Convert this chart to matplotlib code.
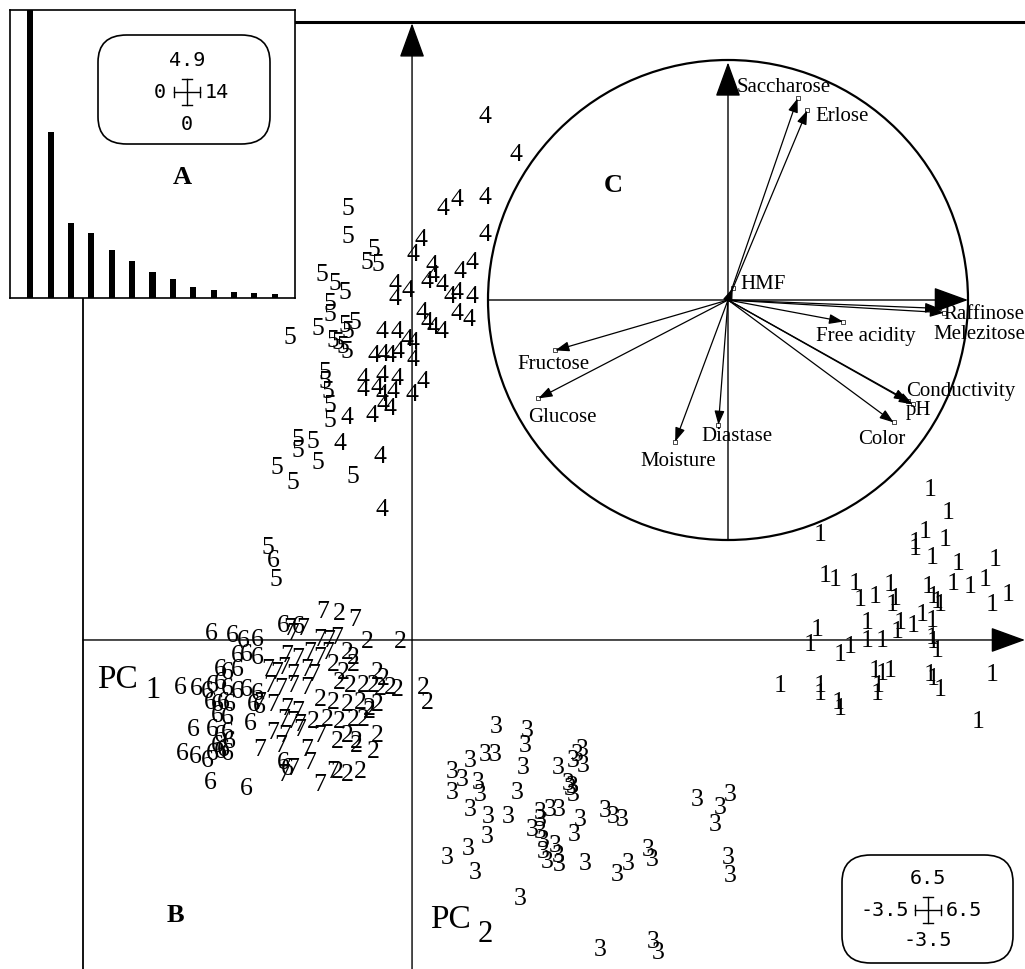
import matplotlib.pyplot as plt
from matplotlib.patches import FancyBboxPatch, Circle
from matplotlib.lines import Line2D

plt.rcParams['font.family'] = ['Liberation Serif', 'DejaVu Serif']

W, H = 1025, 969

# eigenvalues of the PCA (inset A)
eigenvalues = [4.9, 2.83, 1.28, 1.11, 0.82, 0.63, 0.44, 0.32, 0.19, 0.14, 0.10, 0.085, 0.07]

# correlation circle (inset C): loadings on PC1 / PC2
variables = ['Saccharose', 'Erlose', 'HMF', 'Raffinose', 'Melezitose', 'Free acidity',
             'Fructose', 'Glucose', 'Moisture', 'Diastase', 'Color', 'Conductivity', 'pH']
load_pc1 = [0.29, 0.33, 0.02, 0.88, 0.90, 0.48, -0.72, -0.79, -0.22, -0.04, 0.69, 0.75, 0.77]
load_pc2 = [0.84, 0.79, 0.05, -0.035, -0.053, -0.09, -0.21, -0.41, -0.59, -0.52, -0.51, -0.42, -0.435]

# scores (PC1, PC2) for each honey group
g1 = [(5.51, 1.62), (5.70, 1.38), (4.34, 1.14), (5.46, 1.17), (5.35, 1.06), (5.35, 0.99),
      (5.67, 1.09), (5.53, 0.90), (5.81, 0.83), (6.20, 0.88), (4.39, 0.71), (4.50, 0.67),
      (4.71, 0.62), (4.77, 0.45), (4.93, 0.48), (5.09, 0.61), (5.11, 0.40), (5.14, 0.46),
      (5.49, 0.59), (5.54, 0.48), (5.59, 0.43), (5.62, 0.40), (5.76, 0.62), (5.94, 0.59),
      (6.10, 0.66), (6.17, 0.40), (6.34, 0.51), (4.31, 0.13), (4.23, -0.03), (4.55, -0.13),
      (4.66, -0.05), (4.84, 0.21), (4.84, 0.02), (5.00, 0.02), (5.16, 0.11), (5.19, 0.21),
      (5.33, 0.18), (5.43, 0.29), (5.53, 0.23), (5.53, 0.05), (5.54, 0.00), (5.59, -0.09),
      (3.91, -0.46), (4.34, -0.46), (4.34, -0.55), (4.53, -0.64), (4.55, -0.71), (4.93, -0.30),
      (5.00, -0.34), (5.09, -0.30), (4.96, -0.46), (4.95, -0.55), (5.51, -0.35), (5.54, -0.39),
      (5.62, -0.51), (6.17, -0.35), (6.02, -0.85)]
g2 = [(-0.77, 0.30), (-0.48, 0.00), (-0.13, 0.00), (-0.69, -0.11), (-0.63, -0.16), (-0.84, -0.24),
      (-0.73, -0.32), (-0.63, -0.24), (-0.37, -0.32), (-0.31, -0.39), (-0.77, -0.43), (-0.66, -0.46),
      (-0.52, -0.46), (-0.41, -0.46), (-0.34, -0.50), (-0.23, -0.48), (-0.16, -0.51), (0.12, -0.48),
      (0.16, -0.64), (-0.98, -0.61), (-0.84, -0.64), (-0.69, -0.67), (-0.55, -0.64), (-0.45, -0.71),
      (-0.37, -0.67), (-1.05, -0.85), (-0.90, -0.82), (-0.77, -0.85), (-0.63, -0.82), (-0.52, -0.82),
      (-0.45, -0.74), (-0.80, -1.06), (-0.69, -0.99), (-0.59, -1.06), (-0.37, -0.99), (-0.41, -1.17),
      (-0.55, -1.38), (-0.69, -1.41), (-0.80, -1.38), (-0.59, -1.10)]
g3 = [(0.90, -0.90), (1.23, -0.94), (1.20, -1.10), (1.81, -1.14), (1.76, -1.20), (1.82, -1.31),
      (0.62, -1.26), (0.78, -1.20), (0.88, -1.20), (0.43, -1.38), (0.53, -1.46), (0.43, -1.60),
      (0.70, -1.49), (0.72, -1.62), (1.18, -1.33), (1.55, -1.33), (1.71, -1.26), (1.12, -1.60),
      (1.66, -1.51), (1.70, -1.54), (1.71, -1.62), (1.68, -1.56), (0.62, -1.78), (0.81, -1.86),
      (1.02, -1.86), (1.36, -1.81), (1.47, -1.78), (1.57, -1.78), (1.28, -1.99), (1.36, -1.89),
      (1.36, -2.02), (1.79, -1.89), (1.73, -2.05), (2.05, -1.79), (2.14, -1.86), (2.24, -1.89),
      (3.03, -1.68), (3.28, -1.76), (3.38, -1.62), (3.22, -1.94), (0.80, -2.07), (0.60, -2.20),
      (0.37, -2.29), (0.67, -2.45), (1.39, -2.11), (1.39, -2.23), (1.44, -2.34), (1.52, -2.16),
      (1.55, -2.27), (1.57, -2.37), (1.84, -2.36), (2.18, -2.47), (2.30, -2.36), (2.51, -2.21),
      (2.55, -2.31), (3.36, -2.29), (3.38, -2.48), (1.15, -2.73), (2.00, -3.27), (2.56, -3.19),
      (2.62, -3.30)]
g4 = [(0.78, 5.59), (1.10, 5.19), (0.78, 4.73), (0.48, 4.71), (0.33, 4.61), (0.78, 4.33),
      (0.09, 4.28), (0.01, 4.12), (0.64, 4.04), (0.51, 3.94), (0.21, 4.01), (0.22, 3.90),
      (0.16, 3.83), (0.32, 3.80), (0.40, 3.67), (0.48, 3.72), (0.64, 3.67), (-0.04, 3.74),
      (-0.18, 3.80), (-0.18, 3.65), (0.11, 3.51), (0.16, 3.40), (0.22, 3.35), (0.32, 3.30),
      (0.48, 3.49), (0.60, 3.43), (-0.32, 3.30), (-0.16, 3.30), (-0.05, 3.22), (0.01, 3.19),
      (-0.41, 3.05), (-0.31, 3.06), (-0.23, 3.05), (-0.15, 3.09), (0.01, 3.01), (-0.52, 2.80),
      (-0.32, 2.84), (-0.16, 2.80), (-0.52, 2.69), (-0.37, 2.71), (-0.32, 2.63), (-0.20, 2.66),
      (0.00, 2.63), (0.12, 2.77), (-0.31, 2.53), (-0.23, 2.48), (-0.69, 2.39), (-0.43, 2.41),
      (-0.77, 2.11), (-0.34, 1.97), (-0.32, 1.41)]
g5 = [(-0.68, 4.61), (-0.68, 4.31), (-0.41, 4.18), (-0.48, 4.04), (-0.36, 4.02), (-0.96, 3.91),
      (-0.82, 3.81), (-0.71, 3.72), (-0.87, 3.60), (-0.87, 3.48), (-1.30, 3.24), (-1.00, 3.33),
      (-0.71, 3.37), (-0.61, 3.40), (-0.68, 3.30), (-0.84, 3.21), (-0.79, 3.19), (-0.74, 3.14),
      (-0.69, 3.09), (-0.93, 2.87), (-0.93, 2.77), (-0.90, 2.66), (-0.87, 2.52), (-0.87, 2.36),
      (-1.21, 2.15), (-1.06, 2.13), (-1.21, 2.04), (-1.44, 1.86), (-1.00, 1.91), (-1.27, 1.70),
      (-0.63, 1.76), (-1.53, 1.01), (-1.45, 0.66)]
g6 = [(-1.48, 0.87), (-2.13, 0.09), (-1.91, 0.07), (-1.80, 0.02), (-1.65, 0.03), (-1.37, 0.18),
      (-1.21, 0.16), (-1.86, -0.14), (-1.76, -0.13), (-1.65, -0.16), (-2.04, -0.29), (-1.96, -0.32),
      (-1.86, -0.29), (-2.47, -0.48), (-2.29, -0.50), (-2.18, -0.53), (-2.12, -0.46), (-2.04, -0.43),
      (-1.97, -0.50), (-1.86, -0.53), (-1.76, -0.51), (-1.65, -0.55), (-2.15, -0.64), (-2.07, -0.67),
      (-2.01, -0.64), (-1.94, -0.67), (-2.07, -0.78), (-1.97, -0.80), (-1.72, -0.87), (-1.62, -0.69),
      (-1.69, -0.67), (-2.33, -0.93), (-2.12, -0.93), (-2.04, -0.99), (-1.97, -0.96), (-1.94, -1.06),
      (-2.07, -1.10), (-2.01, -1.14), (-2.44, -1.19), (-2.31, -1.22), (-2.18, -1.26), (-2.12, -1.19),
      (-2.04, -1.17), (-1.96, -1.19), (-2.15, -1.49), (-1.76, -1.56), (-1.37, -1.28), (-1.33, -1.35)]
g7 = [(-0.95, 0.32), (-0.61, 0.24), (-1.27, 0.09), (-1.16, 0.14), (-1.30, 0.14), (-0.98, 0.03),
      (-0.89, 0.02), (-0.80, 0.05), (-1.33, -0.14), (-1.22, -0.18), (-1.09, -0.11), (-0.98, -0.16),
      (-0.90, -0.11), (-1.54, -0.29), (-1.44, -0.32), (-1.37, -0.27), (-1.27, -0.35), (-1.12, -0.29),
      (-1.05, -0.35), (-1.51, -0.46), (-1.40, -0.50), (-1.27, -0.46), (-1.12, -0.48), (-1.62, -0.64),
      (-1.48, -0.67), (-1.33, -0.71), (-1.22, -0.74), (-1.37, -0.82), (-1.27, -0.85), (-1.19, -0.88),
      (-1.48, -0.96), (-1.35, -0.99), (-1.19, -0.93), (-1.62, -1.14), (-1.40, -1.10), (-1.12, -1.14),
      (-0.98, -0.99), (-1.37, -1.41), (-1.27, -1.35), (-1.09, -1.28), (-0.98, -1.52), (-0.84, -1.38)]
groups = {'1': g1, '2': g2, '3': g3, '4': g4, '5': g5, '6': g6, '7': g7}


def fx(px):
    return px / W


def fy(py):
    return 1 - py / H


fig = plt.figure(figsize=(W / 100, H / 100), dpi=100)

# ---- main score plot (B) ----
ax = fig.add_axes([fx(83), 0, fx(1025) - fx(83), fy(22)])
ax.set_xlim(-3.5, 6.52)
ax.set_ylim(-3.5, 6.574)
ax.set_xticks([])
ax.set_yticks([])
for s in ['right', 'bottom']:
    ax.spines[s].set_visible(False)
ax.spines['left'].set_linewidth(1.3)
ax.spines['top'].set_linewidth(2.2)

arrow_big = dict(arrowstyle='-|>,head_length=1.1,head_width=0.4', mutation_scale=20,
                 lw=1.0, color='black', shrinkA=0, shrinkB=0)
ax.annotate('', xy=(6.52, 0), xytext=(-3.5, 0), arrowprops=arrow_big, annotation_clip=False)
ax.annotate('', xy=(0, 6.56), xytext=(0, -3.5), arrowprops=arrow_big, annotation_clip=False)

for lab, pts in groups.items():
    for x, y in pts:
        ax.text(x, y, lab, ha='center', va='center_baseline', fontsize=18.5, clip_on=False)

fig.text(fx(97), fy(688), 'PC', fontsize=24, va='baseline', ha='left')
fig.text(fx(145), fy(698), '1', fontsize=22, va='baseline', ha='left')
fig.text(fx(430), fy(928), 'PC', fontsize=24, va='baseline', ha='left')
fig.text(fx(478), fy(942), '2', fontsize=22, va='baseline', ha='left')
fig.text(fx(175), fy(915), 'B', fontsize=19, fontweight='bold', ha='center', va='center')

# ---- eigenvalue inset (A) ----
axa = fig.add_axes([fx(10), fy(298), fx(295) - fx(10), fy(10) - fy(298)], zorder=5)
axa.set_facecolor('white')
axa.bar(range(1, len(eigenvalues) + 1), eigenvalues, width=0.3, color='black')
axa.set_xlim(0, 14)
axa.set_ylim(0, 4.9)
axa.set_xticks([])
axa.set_yticks([])
for s in axa.spines.values():
    s.set_linewidth(1.2)


def scale_box(x0, y0, x1, y1, labels, cx, cy, zorder=6):
    box = FancyBboxPatch((fx(x0), fy(y1)), fx(x1) - fx(x0), fy(y0) - fy(y1),
                         boxstyle='round,pad=0,rounding_size=0.028', transform=fig.transFigure,
                         fc='white', ec='black', lw=1.2, zorder=zorder)
    fig.add_artist(box)
    for (px, py, t, ha) in labels:
        fig.text(fx(px), fy(py), t, fontsize=14.5, family='DejaVu Sans Mono',
                 ha=ha, va='center', zorder=zorder + 1)
    kw = dict(color='black', lw=1.0, transform=fig.transFigure, zorder=zorder + 1)
    r, c = 13, 5
    fig.add_artist(Line2D([fx(cx - r), fx(cx + r)], [fy(cy), fy(cy)], **kw))
    fig.add_artist(Line2D([fx(cx), fx(cx)], [fy(cy - r), fy(cy + r)], **kw))
    for sx in (-r, r):
        fig.add_artist(Line2D([fx(cx + sx), fx(cx + sx)], [fy(cy - c), fy(cy + c)], **kw))
    for sy in (-r, r):
        fig.add_artist(Line2D([fx(cx - c), fx(cx + c)], [fy(cy + sy), fy(cy + sy)], **kw))


scale_box(98, 35, 270, 144,
          [(187, 60, '4.9', 'center'), (166, 92, '0', 'right'),
           (205, 92, '14', 'left'), (187, 125, '0', 'center')], 187, 92)
fig.text(fx(182), fy(178), 'A', fontsize=19, fontweight='bold', ha='center', va='center', zorder=7)

scale_box(842, 855, 1013, 963,
          [(928, 879, '6.5', 'center'), (909, 910, '-3.5', 'right'),
           (946, 910, '6.5', 'left'), (928, 940, '-3.5', 'center')], 928, 910)

# ---- correlation circle (C) ----
axc = fig.add_axes([fx(488), fy(540), fx(968) - fx(488), fy(60) - fy(540)], zorder=3)
axc.set_xlim(-1, 1)
axc.set_ylim(-1, 1)
axc.axis('off')
axc.patch.set_alpha(0)
axc.add_patch(Circle((0, 0), 1, fill=False, lw=1.6, ec='black', clip_on=False))
axc.annotate('', xy=(1.0, 0), xytext=(-1, 0), arrowprops=arrow_big, annotation_clip=False)
axc.annotate('', xy=(0, 0.99), xytext=(0, -1), arrowprops=arrow_big, annotation_clip=False)

arrow_small = dict(arrowstyle='-|>,head_length=0.7,head_width=0.25', mutation_scale=12,
                   lw=0.9, color='black', shrinkA=0, shrinkB=0)
label_pos = [(0.036, 0.885), (0.362, 0.764), (0.05, 0.065), (0.899, -0.06), (0.855, -0.143),
             (0.365, -0.15), (-0.877, -0.27), (-0.833, -0.49), (-0.367, -0.675), (-0.113, -0.567),
             (0.543, -0.58), (0.742, -0.38), (0.742, -0.46)]
for name, u, v, (lx, ly) in zip(variables, load_pc1, load_pc2, label_pos):
    axc.annotate('', xy=(u, v), xytext=(0, 0), arrowprops=arrow_small, annotation_clip=False)
    axc.plot(u, v, marker='s', ms=3, mfc='white', mec='black', mew=0.5, clip_on=False)
    axc.text(lx, ly, name, fontsize=15, ha='left', va='center', clip_on=False)

fig.text(fx(613), fy(185), 'C', fontsize=19, fontweight='bold', ha='center', va='center')

fig.savefig('out.png', dpi=100)
